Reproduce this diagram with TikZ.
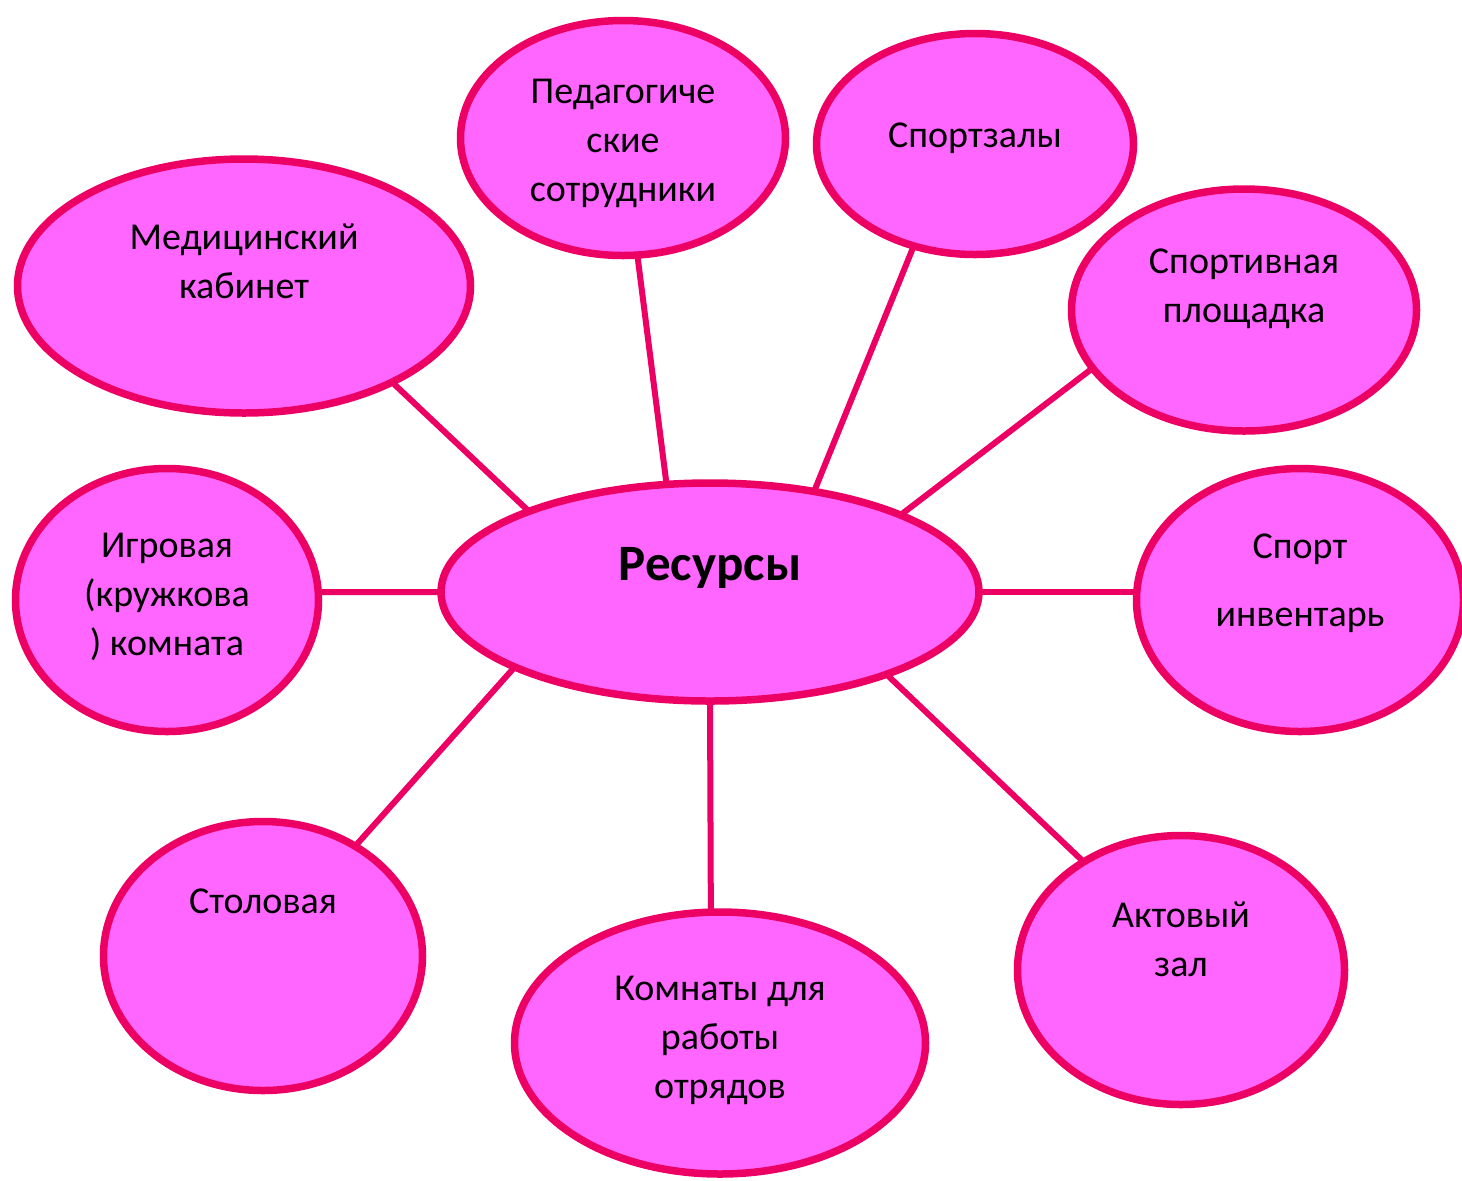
\documentclass[tikz,border=0pt]{standalone}
\usepackage{fontspec}
\setmainfont{Carlito}
\usepackage{xcolor}
\usepackage{tikz}
\usetikzlibrary{shapes.geometric, calc}
\definecolor{rimpink}{RGB}{236,0,100}
\definecolor{fillpink}{RGB}{255,102,255}
\tikzstyle{bubble} = [ellipse, draw=rimpink, line width=3.75pt, fill=fillpink, inner sep=0pt, outer sep=0pt]
\tikzstyle{txt} = [align=center, text=black, font=\fontsize{19}{24.5}\selectfont]
\tikzstyle{link} = [draw=rimpink, line width=3pt]

\begin{document}
\begin{tikzpicture}[x=0.5pt, y=-0.5pt]
    \useasboundingbox (0,0) rectangle (1462,1180);
    \node (res) [bubble, minimum width=269pt, minimum height=109pt] at (710,592) {};
    \node (med) [bubble, minimum width=226.5pt, minimum height=127pt] at (244,286) {};
    \node (ped) [bubble, minimum width=162.5pt, minimum height=117.5pt] at (623,138) {};
    \node (sz) [bubble, minimum width=158.5pt, minimum height=110.5pt] at (975,144) {};
    \node (pl) [bubble, minimum width=172.5pt, minimum height=121pt] at (1244,310) {};
    \node (inv) [bubble, minimum width=163.5pt, minimum height=131.5pt] at (1300,600) {};
    \node (akt) [bubble, minimum width=163.5pt, minimum height=134.5pt] at (1181,970) {};
    \node (kom) [bubble, minimum width=205.5pt, minimum height=131pt] at (720,1043) {};
    \node (stol) [bubble, minimum width=159.5pt, minimum height=134.5pt] at (263,956) {};
    \node (ig) [bubble, minimum width=151.5pt, minimum height=131.5pt] at (167,600) {};

    % texts
    \node (restxt) [txt, font=\fontsize{25.5}{30}\selectfont\bfseries] at ($(res)+(0,-24)$) {Ресурсы};
    \node (medtxt) [txt] at ($(med)+(0,-25)$) {Медицинский\\кабинет};
    \node (pedtxt) [txt] at ($(ped)+(0,5)$) {Педагогиче\\ские\\сотрудники};
    \node (sztxt) [txt] at ($(sz)+(0,-6)$) {Спортзалы};
    \node (pltxt) [txt] at ($(pl)+(0,-21)$) {Спортивная\\площадка};
    \node (invtxt) [txt] at ($(inv)+(0,-17)$) {Спорт\\[9.5pt]инвентарь};
    \node (akttxt) [txt] at ($(akt)+(0,-31)$) {Актовый\\зал};
    \node (komtxt) [txt] at ($(kom)+(0,-3)$) {Комнаты для\\работы\\отрядов};
    \node (stoltxt) [txt] at ($(stol)+(0,-55)$) {Столовая};
    \node (igtxt) [txt] at ($(ig)+(0,-3)$) {Игровая\\(кружкова\\) комната};

    % links
    \draw [link] (res.156) -- (med.-33);
    \draw [link] (res.112) -- (ped.-83);
    \draw [link] (res.44) -- (sz.-121);
    \draw [link] (res.22) -- (pl.-159);
    \draw [link] (res.east) -- (res.east -| inv.west);
    \draw [link] (res.-25) -- (akt.132);
    \draw [link] (res.-90) -- (kom.94);
    \draw [link] (res.-159) -- (stol.50);
    \draw [link] (res.180) -- (ig.3);
\end{tikzpicture}
\end{document}
